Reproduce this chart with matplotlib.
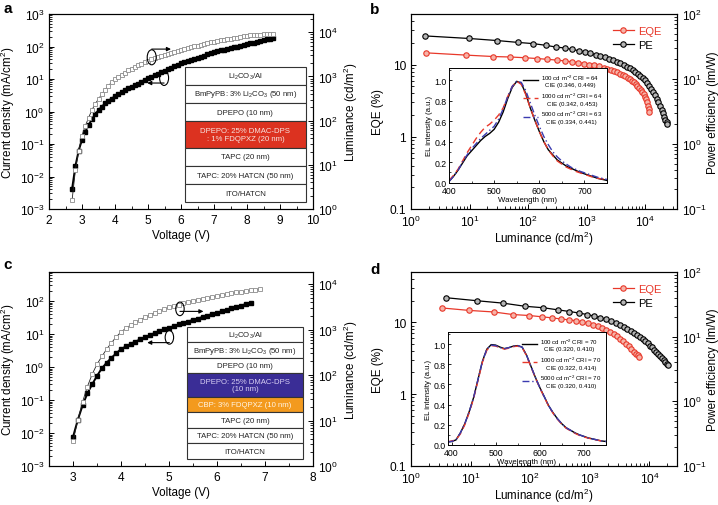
import matplotlib
matplotlib.use("Agg")
import matplotlib.pyplot as plt
from matplotlib.patches import Rectangle, Ellipse
from matplotlib.ticker import FuncFormatter, NullFormatter, MultipleLocator, LogLocator

plt.rcParams["font.family"] = ["Liberation Sans", "DejaVu Sans"]
plt.rcParams["mathtext.fontset"] = "custom"
plt.rcParams["mathtext.rm"] = "Liberation Sans"
plt.rcParams["mathtext.it"] = "Liberation Sans:italic"
plt.rcParams["mathtext.bf"] = "Liberation Sans:bold"
plt.rcParams["axes.linewidth"] = 0.8

RED = "#e8382a"
BLUE = "#3b3bb0"

# ---- panel a: J-V-L, single EML device
V_A = [2.7, 2.8, 2.9, 3.0, 3.1, 3.2, 3.3, 3.4, 3.5, 3.6, 3.7, 3.8, 3.9, 4.0, 4.1, 4.2,
       4.3, 4.4, 4.5, 4.6, 4.7, 4.8, 4.9, 5.0, 5.1, 5.2, 5.3, 5.4, 5.5, 5.6, 5.7, 5.8,
       5.9, 6.0, 6.1, 6.2, 6.3, 6.4, 6.5, 6.6, 6.7, 6.8, 6.9, 7.0, 7.1, 7.2, 7.3, 7.4,
       7.5, 7.6, 7.7, 7.8, 7.9, 8.0, 8.1, 8.2, 8.3, 8.4, 8.5, 8.6, 8.7, 8.8]
J_A = [0.0042, 0.021, 0.063, 0.135, 0.24, 0.38, 0.58, 0.83, 1.10, 1.41,
       1.78, 2.14, 2.51, 2.95, 3.39, 3.89, 4.47, 5.13, 5.75, 6.46,
       7.24, 8.32, 9.33, 10.5, 11.7, 13.2, 14.5, 16.2, 17.8, 20.0,
       21.9, 24.5, 26.9, 30.2, 32.4, 35.5, 38.0, 41.7, 44.7, 49.0,
       52.5, 57.5, 61.7, 66.1, 70.8, 75.9, 79.4, 85.1, 89.1, 95.5,
       100, 107, 112, 120, 126, 132, 141, 148, 155, 166, 174, 182]
L_A = [1.6, 7.6, 21, 46, 76, 117, 174, 240, 309, 398,
       501, 617, 741, 871, 977, 1100, 1230, 1380, 1510, 1660,
       1820, 1950, 2140, 2290, 2450, 2630, 2750, 2950, 3090, 3310,
       3470, 3630, 3800, 3980, 4170, 4370, 4570, 4790, 5010, 5250,
       5500, 5750, 5890, 6170, 6310, 6610, 6760, 7080, 7240, 7410,
       7590, 7940, 8130, 8320, 8510, 8710, 8910, 8910, 9120, 9120, 9330, 9330]
LAYERS_A = ["Li$_2$CO$_3$/Al", "BmPyPB: 3% Li$_2$CO$_3$ (50 nm)", "DPEPO (10 nm)",
            "DPEPO: 25% DMAC-DPS\n: 1% FDQPXZ (20 nm)", "TAPC (20 nm)",
            "TAPC: 20% HATCN (50 nm)", "ITO/HATCN"]
LAYER_W_A = [1, 1, 1, 1.46, 1, 1, 1]
LAYER_FC_A = ["white", "white", "white", "#dc3220", "white", "white", "white"]
LAYER_TC_A = ["#222222", "#222222", "#222222", "#f6e4e0", "#222222", "#222222", "#222222"]

# ---- panel c: J-V-L, double EML device
V_C_J = [3.0, 3.1, 3.2, 3.3, 3.4, 3.5, 3.6, 3.7, 3.8, 3.9, 4.0, 4.1, 4.2, 4.3, 4.4, 4.5,
         4.6, 4.7, 4.8, 4.9, 5.0, 5.1, 5.2, 5.3, 5.4, 5.5, 5.6, 5.7, 5.8, 5.9, 6.0, 6.1,
         6.2, 6.3, 6.4, 6.5, 6.6, 6.7]
J_C = [0.0076, 0.025, 0.069, 0.16, 0.30, 0.54, 0.91, 1.35, 1.9, 2.6,
       3.5, 4.2, 5.0, 5.9, 6.9, 7.9, 9.3, 10.7, 12.0, 13.8,
       15.5, 17.4, 19.5, 21.9, 24.0, 26.9, 29.5, 33.1, 36.3, 40.7,
       44.7, 49.0, 55.0, 60.3, 66.1, 72.4, 81.3, 89.1]
V_C_L = [3.0, 3.1, 3.2, 3.3, 3.4, 3.5, 3.6, 3.7, 3.8, 3.9, 4.0, 4.1, 4.2, 4.3, 4.4, 4.5,
         4.6, 4.7, 4.8, 4.9, 5.0, 5.1, 5.2, 5.3, 5.4, 5.5, 5.6, 5.7, 5.8, 5.9, 6.0, 6.1,
         6.2, 6.3, 6.4, 6.5, 6.6, 6.7, 6.8, 6.9]
L_C = [3.5, 10.2, 26, 56, 105, 174, 257, 372, 513, 692,
       891, 1070, 1260, 1450, 1660, 1860, 2090, 2340, 2570, 2820,
       3090, 3310, 3550, 3800, 4070, 4270, 4570, 4790, 5010, 5250,
       5500, 5750, 6030, 6310, 6610, 6760, 7080, 7410, 7590, 7940]
LAYERS_C = ["Li$_2$CO$_3$/Al", "BmPyPB: 3% Li$_2$CO$_3$ (50 nm)", "DPEPO (10 nm)",
            "DPEPO: 25% DMAC-DPS\n(10 nm)", "CBP: 3% FDQPXZ (10 nm)", "TAPC (20 nm)",
            "TAPC: 20% HATCN (50 nm)", "ITO/HATCN"]
LAYER_W_C = [1, 1, 1, 1.5, 1, 1, 1, 1]
LAYER_FC_C = ["white", "white", "white", "#3a2d96", "#f39a1e", "white", "white", "white"]
LAYER_TC_C = ["#222222", "#222222", "#222222", "#d8d0f4", "#fff4e4", "#222222", "#222222", "#222222"]

# ---- panel b: efficiencies + spectra
L_EQE_B = [1.8, 8.6, 25, 50, 89, 141, 214, 309, 424, 560,
           720, 910, 1120, 1350, 1620, 1950, 2240, 2600, 2950, 3330,
           3720, 4130, 4560, 5000, 5460, 5930, 6410, 6900, 7400, 7900,
           8400, 8900, 9400, 9900, 10350, 10800, 11200, 11500, 11700]
EQE_B = [14.5, 13.5, 12.9, 12.7, 12.4, 12.1, 11.8, 11.5, 11.2, 10.9,
         10.6, 10.3, 10.0, 9.7, 9.4, 9.0, 8.7, 8.4, 8.1, 7.8,
         7.5, 7.2, 6.9, 6.6, 6.3, 6.0, 5.7, 5.4, 5.1, 4.8,
         4.5, 4.2, 3.9, 3.6, 3.3, 3.0, 2.7, 2.45, 2.2]
L_PE_B = [1.74, 9.9, 30, 66, 123, 200, 300, 420, 560, 730,
          930, 1160, 1420, 1710, 2040, 2410, 2820, 3270, 3760, 4290,
          4860, 5470, 6120, 6810, 7540, 8310, 9120, 9970, 10860, 11790,
          12750, 13740, 14760, 15800, 16860, 17940, 19030, 20120, 21200, 22250,
          23200, 23800]
PE_B = [46, 42, 39, 36.6, 35, 33, 31, 30, 28.5, 27.3,
        26, 24.8, 23.6, 22.5, 21.5, 20.5, 19.5, 18.5, 17.5, 16.5,
        15.5, 14.6, 13.7, 12.8, 12.0, 11.1, 10.3, 9.5, 8.7, 7.9,
        7.1, 6.4, 5.7, 5.0, 4.4, 3.85, 3.35, 2.95, 2.6, 2.35,
        2.15, 2.05]
WL_B = [400, 410, 420, 430, 440, 450, 460, 470, 480, 490, 500, 510, 520, 530, 540, 550,
        560, 570, 580, 590, 600, 610, 620, 630, 640, 650, 660, 670, 680, 690, 700, 710,
        720, 730, 740, 750]
EL_B_100 = [0.01, 0.06, 0.12, 0.19, 0.26, 0.31, 0.36, 0.41, 0.45, 0.48,
            0.52, 0.59, 0.69, 0.82, 0.93, 0.99, 0.97, 0.87, 0.73, 0.61,
            0.50, 0.40, 0.32, 0.27, 0.22, 0.19, 0.16, 0.14, 0.12, 0.10,
            0.085, 0.07, 0.055, 0.04, 0.03, 0.02]
EL_B_1000 = [0.02, 0.07, 0.13, 0.21, 0.29, 0.36, 0.43, 0.49, 0.54, 0.57,
             0.61, 0.66, 0.73, 0.84, 0.94, 0.99, 0.96, 0.86, 0.73, 0.61,
             0.50, 0.40, 0.32, 0.26, 0.21, 0.18, 0.15, 0.13, 0.11, 0.095,
             0.08, 0.065, 0.05, 0.04, 0.035, 0.025]
EL_B_5000 = [0.01, 0.06, 0.12, 0.20, 0.27, 0.33, 0.38, 0.43, 0.47, 0.51,
             0.55, 0.62, 0.72, 0.84, 0.94, 0.99, 0.98, 0.90, 0.78, 0.66,
             0.55, 0.45, 0.37, 0.30, 0.25, 0.21, 0.18, 0.15, 0.13, 0.11,
             0.095, 0.08, 0.065, 0.05, 0.04, 0.03]
LEG_B = ["100 cd m$^{-2}$ CRI = 64\nCIE (0.346, 0.449)",
         "1000 cd m$^{-2}$ CRI = 64\nCIE (0.342, 0.453)",
         "5000 cd m$^{-2}$ CRI = 63\nCIE (0.334, 0.441)"]

# ---- panel d
L_EQE_D = [3.3, 9.5, 24.3, 51, 97, 158, 233, 330, 445, 590,
           740, 920, 1120, 1350, 1600, 1870, 2180, 2520, 2880, 3260,
           3660, 4080, 4520, 4980, 5450, 5920, 6380, 6800]
EQE_D = [15.8, 14.6, 13.9, 12.8, 12.4, 11.9, 11.5, 11.1, 10.8, 10.5,
         10.1, 9.7, 9.3, 8.9, 8.4, 7.9, 7.4, 6.9, 6.4, 5.9,
         5.5, 5.0, 4.6, 4.2, 3.9, 3.6, 3.45, 3.3]
L_PE_D = [3.9, 12.6, 35, 82, 166, 290, 455, 660, 900, 1180,
          1500, 1860, 2260, 2700, 3180, 3700, 4260, 4860, 5500, 6180,
          6900, 7660, 8460, 9300, 10180, 11100, 12060, 13060, 14100, 15180,
          16300, 17400, 18500, 19500, 20400]
PE_D = [40, 36, 33, 29.5, 28, 26, 24.5, 23.2, 22.0, 20.8,
        19.7, 18.6, 17.5, 16.4, 15.3, 14.3, 13.3, 12.4, 11.5, 10.7,
        9.9, 9.2, 8.5, 7.9, 7.3, 6.8, 6.3, 5.8, 5.4, 5.0,
        4.6, 4.3, 4.0, 3.8, 3.7]
WL_D = [390, 400, 410, 420, 430, 440, 450, 460, 470, 480, 490, 500, 510, 520, 530, 540,
        550, 560, 570, 580, 590, 600, 610, 620, 630, 640, 650, 660, 670, 680, 690, 700,
        710, 720, 730, 740, 750]
EL_D_100 = [0.03, 0.035, 0.05, 0.12, 0.21, 0.33, 0.47, 0.65, 0.83, 0.95,
            0.995, 0.99, 0.97, 0.955, 0.965, 0.98, 0.985, 0.97, 0.89, 0.78,
            0.67, 0.57, 0.48, 0.39, 0.32, 0.26, 0.21, 0.17, 0.145, 0.12,
            0.10, 0.085, 0.07, 0.06, 0.05, 0.04, 0.035]
EL_D_1000 = [0.03, 0.04, 0.05, 0.11, 0.20, 0.32, 0.46, 0.64, 0.82, 0.94,
             0.985, 0.98, 0.965, 0.95, 0.96, 0.975, 0.98, 0.965, 0.885, 0.775,
             0.665, 0.565, 0.475, 0.385, 0.315, 0.255, 0.205, 0.165, 0.14, 0.115,
             0.095, 0.08, 0.068, 0.058, 0.048, 0.04, 0.035]
EL_D_5000 = [0.03, 0.035, 0.05, 0.12, 0.21, 0.33, 0.47, 0.65, 0.83, 0.95,
             0.99, 0.985, 0.965, 0.955, 0.965, 0.98, 0.985, 0.97, 0.89, 0.78,
             0.67, 0.57, 0.48, 0.39, 0.32, 0.26, 0.21, 0.17, 0.145, 0.12,
             0.10, 0.085, 0.07, 0.06, 0.05, 0.04, 0.035]
LEG_D = ["100 cd m$^{-2}$ CRI = 70\nCIE (0.320, 0.410)",
         "1000 cd m$^{-2}$ CRI = 70\nCIE (0.322, 0.414)",
         "5000 cd m$^{-2}$ CRI = 70\nCIE (0.320, 0.410)"]

TICK_FS = 8.6
LABEL_FS = 8.4


def style_axes(ax, ax2):
    for a in (ax, ax2):
        a.tick_params(direction="in", which="both", labelsize=TICK_FS, top=False)
        a.tick_params(which="major", length=3.5, width=0.7)
        a.tick_params(which="minor", length=2, width=0.6)
    ax.tick_params(which="both", right=False)
    ax2.tick_params(which="both", left=False, right=True)


def draw_stack(ax, box, layers, weights, fcs, tcs):
    x0, x1, y0, y1 = box
    total = sum(weights)
    top = y1
    for name, w, fc, tc in zip(layers, weights, fcs, tcs):
        h = (y1 - y0) * w / total
        ax.add_patch(Rectangle((x0, top - h), x1 - x0, h, transform=ax.transAxes,
                               facecolor=fc, edgecolor="#333333", linewidth=0.8, zorder=5))
        ax.text((x0 + x1) / 2, top - h / 2, name, transform=ax.transAxes, ha="center",
                va="center", fontsize=5.6, color=tc, zorder=6, linespacing=1.1)
        top -= h


def draw_cyl(ax, c, w, h, start, end):
    ax.add_patch(Ellipse(c, w, h, transform=ax.transAxes, fill=False,
                         edgecolor="black", linewidth=0.8, zorder=6))
    ax.annotate("", xy=end, xytext=start, xycoords="axes fraction",
                arrowprops=dict(arrowstyle="-|>", lw=0.8, color="black",
                                mutation_scale=6, shrinkA=0, shrinkB=0), zorder=6)


def draw_jvl(ax, v_j, j, v_l, lum, xlim, ylim_j, ylim_l, xticks):
    ax2 = ax.twinx()
    ax.plot(v_j, j, color="black", lw=1.4, marker="s", ms=3.2, mfc="black",
            mec="black", zorder=3)
    ax2.plot(v_l, lum, color="#222222", lw=0.6, marker="s", ms=3.4, mfc="white",
             mec="#8c8c8c", mew=0.6, zorder=3)
    ax.set_yscale("log")
    ax2.set_yscale("log")
    ax.set_xlim(*xlim)
    ax.set_ylim(*ylim_j)
    ax2.set_ylim(*ylim_l)
    ax.set_xticks(xticks)
    ax.xaxis.set_minor_locator(MultipleLocator(0.5))
    ax.yaxis.set_major_locator(LogLocator(base=10, numticks=12))
    ax2.yaxis.set_major_locator(LogLocator(base=10, numticks=12))
    style_axes(ax, ax2)
    ax.set_xlabel("Voltage (V)", fontsize=LABEL_FS, labelpad=2)
    ax.set_ylabel("Current density (mA/cm$^2$)", fontsize=LABEL_FS, labelpad=2)
    ax2.set_ylabel("Luminance (cd/m$^2$)", fontsize=LABEL_FS, labelpad=3)
    return ax2


def draw_eff(fig, ax, l_eqe, eqe, l_pe, pe, xlim, inset_rect, wl, specs, labels, in_xlim):
    ax2 = ax.twinx()
    h1, = ax.plot(l_eqe, eqe, color=RED, lw=0.9, marker="o", ms=3.9, mfc="#f6b3a8",
                  mec=RED, mew=0.8, label="EQE")
    h2, = ax2.plot(l_pe, pe, color="black", lw=0.9, marker="o", ms=3.9, mfc="#b5b5b5",
                   mec="black", mew=0.8, label="PE")
    ax.set_xscale("log")
    ax.set_yscale("log")
    ax2.set_yscale("log")
    ax.set_xlim(*xlim)
    ax.set_ylim(0.1, 50)
    ax2.set_ylim(0.1, 100)
    ax.xaxis.set_major_locator(LogLocator(base=10, numticks=12))
    ax.yaxis.set_major_formatter(FuncFormatter(lambda v, p: f"{v:g}"))
    ax.yaxis.set_minor_formatter(NullFormatter())
    style_axes(ax, ax2)
    ax.set_xlabel("Luminance (cd/m$^2$)", fontsize=LABEL_FS, labelpad=0)
    ax.set_ylabel("EQE (%)", fontsize=LABEL_FS, labelpad=4)
    ax2.set_ylabel("Power efficiency (lm/W)", fontsize=LABEL_FS, labelpad=0.5)
    ax2.legend([h1, h2], ["EQE", "PE"], loc="upper left", bbox_to_anchor=(0.72, 0.99),
               frameon=False, fontsize=8, handlelength=1.9, handletextpad=0.4,
               labelspacing=0.35, labelcolor=[RED, "black"])

    ins = fig.add_axes(inset_rect)
    styles = [dict(color="black", ls="-", lw=1.0),
              dict(color=RED, ls=(0, (5, 3)), lw=1.0),
              dict(color=BLUE, ls=(0, (5, 2, 1, 2)), lw=1.0)]
    for s, lab, st in zip(specs, labels, styles):
        ins.plot(wl, s, label=lab, **st)
    ins.set_xlim(*in_xlim)
    ins.set_ylim(0, 1.12)
    ins.set_xticks([400, 500, 600, 700])
    ins.set_yticks([0.0, 0.2, 0.4, 0.6, 0.8, 1.0])
    ins.yaxis.set_major_formatter(FuncFormatter(lambda v, p: f"{v:.1f}"))
    ins.xaxis.set_minor_locator(MultipleLocator(50))
    ins.yaxis.set_minor_locator(MultipleLocator(0.1))
    ins.tick_params(direction="in", which="both", labelsize=6.3, pad=1.5)
    ins.tick_params(axis="x", pad=2.5)
    ins.tick_params(which="major", length=2.5, width=0.6)
    ins.tick_params(which="minor", length=1.4, width=0.5)
    for sp in ins.spines.values():
        sp.set_linewidth(0.7)
    ins.set_xlabel("Wavelength (nm)", fontsize=5.6, labelpad=0.5)
    ins.set_ylabel("EL intensity (a.u.)", fontsize=5.6, labelpad=1)
    leg = ins.legend(loc="upper right", frameon=False, fontsize=4.4, handlelength=2.4,
                     handletextpad=0.5, labelspacing=0.55, borderaxespad=0.3)
    for t in leg.get_texts():
        t.set_multialignment("center")
    return ax2


def main():
    fig = plt.figure(figsize=(7.18, 5.06), dpi=100)
    W, H = 718.0, 506.0

    def rect(l, r, t, b):
        return [l / W, 1 - b / H, (r - l) / W, (b - t) / H]

    ax_a = fig.add_axes(rect(49, 313, 15, 210))
    ax_b = fig.add_axes(rect(411, 677, 15, 210))
    ax_c = fig.add_axes(rect(49, 313, 273, 467))
    ax_d = fig.add_axes(rect(411, 677, 273, 467))

    a2 = draw_jvl(ax_a, V_A, J_A, V_A, L_A, (2, 10), (1e-3, 1e3), (1, 2.6e4),
                  [2, 3, 4, 5, 6, 7, 8, 9, 10])
    draw_stack(a2, (0.515, 0.973, 0.034, 0.73), LAYERS_A, LAYER_W_A, LAYER_FC_A, LAYER_TC_A)
    draw_cyl(a2, (0.389, 0.778), 0.034, 0.077, (0.389, 0.82), (0.462, 0.82))
    draw_cyl(a2, (0.436, 0.672), 0.034, 0.077, (0.436, 0.646), (0.372, 0.646))

    c2 = draw_jvl(ax_c, V_C_J, J_C, V_C_L, L_C, (2.5, 8), (1e-3, 760), (1, 1.86e4),
                  [3, 4, 5, 6, 7, 8])
    draw_stack(c2, (0.522, 0.963, 0.036, 0.718), LAYERS_C, LAYER_W_C, LAYER_FC_C, LAYER_TC_C)
    draw_cyl(c2, (0.496, 0.81), 0.032, 0.07, (0.496, 0.797), (0.585, 0.797))
    draw_cyl(c2, (0.456, 0.663), 0.032, 0.07, (0.456, 0.636), (0.372, 0.636))

    draw_eff(fig, ax_b, L_EQE_B, EQE_B, L_PE_B, PE_B, (1, 3.5e4), rect(449, 607, 69, 183.5),
             WL_B, [EL_B_100, EL_B_1000, EL_B_5000], LEG_B, (400, 750))
    draw_eff(fig, ax_d, L_EQE_D, EQE_D, L_PE_D, PE_D, (1, 2.9e4), rect(448, 606, 333, 446),
             WL_D, [EL_D_100, EL_D_1000, EL_D_5000], LEG_D, (392, 750))

    for lab, x, y in [("a", 3, 2), ("b", 370, 3), ("c", 3, 258), ("d", 370, 263)]:
        fig.text(x / W, 1 - y / H, lab, fontsize=11, fontweight="bold", va="top", ha="left")

    fig.savefig("out.png", dpi=100)


if __name__ == "__main__":
    main()
